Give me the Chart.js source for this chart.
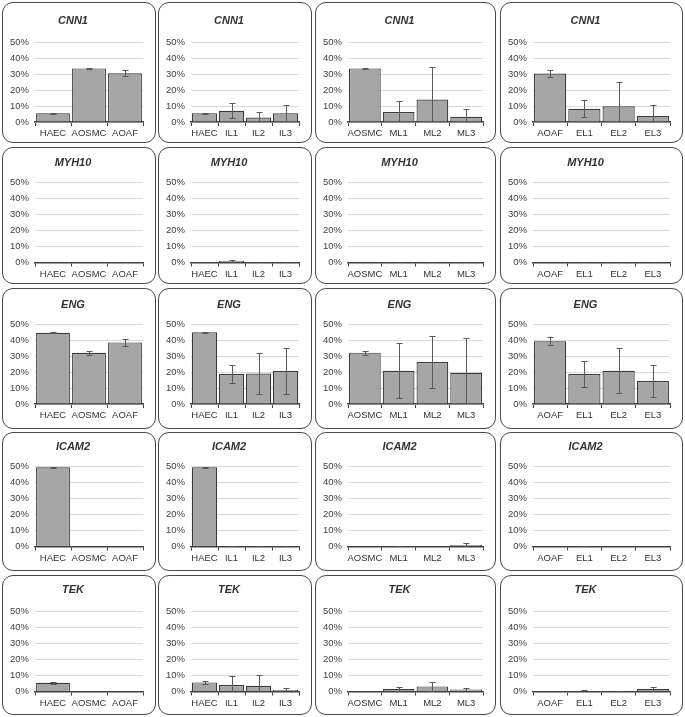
<!DOCTYPE html>
<html>
<head>
<meta charset="utf-8">
<script src="https://cdn.jsdelivr.net/npm/chart.js@4"></script>
<style>
  html, body { margin: 0; padding: 0; background: #fff; }
  #wrap { position: relative; width: 685px; height: 717px; }
  .panel { position: absolute; box-sizing: border-box; border: 1.5px solid #4a4a4a; border-radius: 11px; background: #fff; overflow: hidden; }
  .panel canvas { position: absolute; left: 0; top: 0; }
</style>
</head>
<body>
<div id="wrap"></div>
<script>
// ---------- data ----------
const genes = ['CNN1', 'MYH10', 'ENG', 'ICAM2', 'TEK'];
const catsAorta = ['HAEC', 'AOSMC', 'AOAF'];
const catsIL = ['HAEC', 'IL1', 'IL2', 'IL3'];
const catsML = ['AOSMC', 'ML1', 'ML2', 'ML3'];
const catsEL = ['AOAF', 'EL1', 'EL2', 'EL3'];
const yTickValues = [0, 10, 20, 30, 40, 50];
const yTickLabels = ['0%', '10%', '20%', '30%', '40%', '50%'];

// mean (%) and error (±%) per column group: [aorta, IL, ML, EL]
const cnn1Mean = [[5.5, 33.5, 30.4], [5.5, 7.0, 2.8, 5.5], [33.5, 6.2, 14.0, 3.3], [30.3, 8.3, 9.8, 3.8]];
const cnn1Err  = [[0.3, 0.5, 1.9], [0.3, 4.8, 3.2, 5.1], [0.5, 6.8, 20.2, 5.1], [1.9, 5.4, 15.2, 6.6]];

const myh10Mean = [[0, 0, 0.1], [0.1, 1.0, 0.1, 0.2], [0, 0.1, 0.2, 0.1], [0, 0.1, 0.1, 0.2]];
const myh10Err  = [[0, 0, 0.1], [0, 0.5, 0.1, 0.2], [0, 0.1, 0.2, 0.1], [0, 0.1, 0.1, 0.2]];

const engMean = [[44.5, 32.0, 38.5], [44.8, 18.7, 19.0, 20.6], [32.1, 20.8, 26.2, 19.5], [39.2, 18.7, 20.8, 14.4]];
const engErr  = [[0.2, 1.2, 2.3], [0.2, 5.6, 12.9, 14.3], [1.2, 17.1, 16.4, 22.0], [2.4, 8.3, 14.1, 9.8]];

const icam2Mean = [[49.5, 0, 0], [49.5, 0.2, 0.1, 0.1], [0, 0.3, 0.1, 1.0], [0, 0.1, 0, 0.1]];
const icam2Err  = [[0.4, 0, 0], [0.4, 0.1, 0.1, 0.1], [0, 0.2, 0, 0.9], [0, 0.1, 0, 0]];

const tekMean = [[5.5, 0, 0], [5.7, 4.1, 3.6, 1.0], [0, 1.5, 3.2, 1.2], [0, 0.3, 0.1, 1.5]];
const tekErr  = [[0.7, 0, 0], [0.8, 5.5, 6.6, 1.4], [0, 1.3, 2.6, 1.2], [0, 0.8, 0.1, 1.4]];

// ---------- layout ----------
const groupCats = [catsAorta, catsIL, catsML, catsEL];
const geneMeans = [cnn1Mean, myh10Mean, engMean, icam2Mean, tekMean];
const geneErrs = [cnn1Err, myh10Err, engErr, icam2Err, tekErr];

const colX = [2, 158, 315, 500];
const colW = [154, 154, 181, 183];
const rowY = [2, 147, 288, 432, 575];
const rowH = [141, 137, 141, 139, 140];
const rowTitleC = [19, 16, 17, 15, 15];     // title centre, from panel top
const rowPlotTop = [40.5, 36, 36.5, 35, 37]; // plot top, from panel top
const PLOT_H = 80;
const BORDER = 1.5;
const TITLE_SIZE = 11;
const TITLE_LH = TITLE_SIZE * 1.2;

Chart.defaults.font.family = "'Liberation Sans', Arial, sans-serif";

function errorBarPlugin(errs) {
  return {
    id: 'errbars',
    afterDatasetsDraw(chart) {
      const ctx = chart.ctx;
      const area = chart.chartArea;
      const meta = chart.getDatasetMeta(0);
      const vals = chart.data.datasets[0].data;
      const ys = chart.scales.y;
      ctx.save();
      ctx.beginPath();
      ctx.rect(area.left, area.top - 2, area.right - area.left, area.bottom - area.top + 2);
      ctx.clip();
      ctx.strokeStyle = '#5a5a5a';
      ctx.lineWidth = 1;
      meta.data.forEach((bar, i) => {
        const e = errs[i];
        if (!e) return;
        const m = vals[i];
        const x = Math.round(bar.x) + 0.5;
        const yt = Math.round(ys.getPixelForValue(m + e)) + 0.5;
        const yb = Math.round(ys.getPixelForValue(m - e)) + 0.5;
        ctx.beginPath();
        ctx.moveTo(x, yt); ctx.lineTo(x, yb);
        ctx.moveTo(x - 3, yt); ctx.lineTo(x + 3, yt);
        ctx.moveTo(x - 3, yb); ctx.lineTo(x + 3, yb);
        ctx.stroke();
      });
      ctx.restore();
    }
  };
}

const wrap = document.getElementById('wrap');
for (let r = 0; r < genes.length; r++) {
  for (let c = 0; c < 4; c++) {
    const panel = document.createElement('div');
    panel.className = 'panel';
    panel.style.left = colX[c] + 'px';
    panel.style.top = rowY[r] + 'px';
    panel.style.width = colW[c] + 'px';
    panel.style.height = rowH[r] + 'px';
    const cw = Math.round(colW[c] - 2 * BORDER);
    const chh = Math.round(rowH[r] - 2 * BORDER);
    const canvas = document.createElement('canvas');
    canvas.width = cw; canvas.height = chh;
    canvas.style.width = cw + 'px'; canvas.style.height = chh + 'px';
    panel.appendChild(canvas);
    wrap.appendChild(panel);

    const tC = rowTitleC[r] - BORDER;
    const pTop = rowPlotTop[r] - BORDER;
    const padTop = tC - TITLE_LH / 2;
    const padBottom = pTop - padTop - TITLE_LH;
    const xH = chh - (pTop + PLOT_H);

    new Chart(canvas, {
      type: 'bar',
      data: {
        labels: groupCats[c],
        datasets: [{
          data: geneMeans[r][c],
          backgroundColor: '#a6a6a6',
          borderColor: '#3a3a3a',
          borderWidth: 1.2,
          barPercentage: 0.94,
          categoryPercentage: 1.0
        }]
      },
      options: {
        responsive: false,
        devicePixelRatio: 1,
        animation: false,
        events: [],
        layout: { padding: { left: 0, right: 11, top: 0, bottom: 0 } },
        plugins: {
          legend: { display: false },
          tooltip: { enabled: false },
          title: {
            display: true,
            text: genes[r],
            color: '#333',
            font: { size: TITLE_SIZE, weight: 'bold', style: 'italic' },
            padding: { top: padTop, bottom: padBottom }
          }
        },
        scales: {
          x: {
            grid: { display: true, drawOnChartArea: false, drawTicks: true, tickLength: 4, color: '#404040', lineWidth: 1 },
            border: { display: true, color: '#404040', width: 1.5 },
            ticks: { color: '#333', font: { size: 9.5 }, padding: 2, maxRotation: 0, autoSkip: false },
            afterFit: (s) => { s.height = xH; }
          },
          y: {
            min: 0, max: 50,
            afterBuildTicks: (s) => { s.ticks = yTickValues.map(v => ({ value: v })); },
            ticks: {
              color: '#404040', font: { size: 9.5 }, padding: 6,
              callback: (v) => yTickLabels[yTickValues.indexOf(v)]
            },
            grid: { color: '#d9d9d9', drawTicks: false, lineWidth: 1 },
            border: { display: false },
            afterFit: (s) => { s.width = 32; }
          }
        }
      },
      plugins: [errorBarPlugin(geneErrs[r][c])]
    });
  }
}
</script>
</body>
</html>
